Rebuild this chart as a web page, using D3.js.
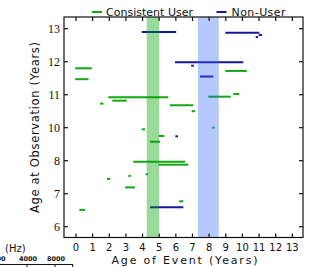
<!DOCTYPE html>
<html>
<head>
<meta charset="utf-8">
<script src="https://cdn.jsdelivr.net/npm/d3@7"></script>
<style>
  body { margin: 0; background: #fff; }
  svg { display: block; }
</style>
</head>
<body>
<div id="chart"></div>
<script>
// x tick values (years) and y tick labels (the axis skips 9)
const xTicks = [0, 1, 2, 3, 4, 5, 6, 7, 8, 9, 10, 11, 12, 13]
const yTicks = [6, 7, 8, 10, 11, 12, 13]

// shaded windows [start, end] in years
const greenBand = [4.25, 5.0]
const blueBand = [7.33, 8.58]

// [start age, end age, age at observation]
const nonUser = [
  [3.95, 6.02, 12.9],
  [8.97, 11.02, 12.88],
  [10.8, 10.95, 12.75],
  [10.98, 11.18, 12.81],
  [5.95, 10.05, 11.98],
  [6.92, 7.08, 11.88],
  [7.45, 8.25, 11.55],
  [5.97, 6.13, 9.48],
  [4.45, 6.45, 6.59]
]

const consistent = [
  [-0.05, 0.95, 11.8],
  [-0.05, 0.75, 11.47],
  [8.97, 10.26, 11.72],
  [1.94, 5.55, 10.92],
  [1.45, 1.65, 10.73],
  [2.18, 3.05, 10.82],
  [5.65, 7.05, 10.68],
  [6.95, 7.15, 10.5],
  [7.95, 9.3, 10.94],
  [9.45, 9.81, 11.02],
  [3.95, 4.15, 9.9],
  [4.97, 5.3, 9.5],
  [4.45, 5.05, 9.15],
  [8.18, 8.32, 10.0],
  [3.44, 6.55, 7.97],
  [4.95, 6.75, 7.88],
  [1.86, 2.06, 7.45],
  [3.15, 3.3, 7.54],
  [4.18, 4.32, 7.59],
  [2.95, 3.55, 7.19],
  [6.2, 6.45, 6.77],
  [0.2, 0.55, 6.51]
]

const GREEN = "#12a812"
const BLUE = "#1616a0"

const width = 310, height = 267
const plotLeft = 64, plotRight = 303, plotTop = 17, plotBottom = 237.5

const svg = d3.select("#chart").append("svg")
    .attr("width", width)
    .attr("height", height)

const x = d3.scaleLinear().domain([-0.72, 13.64]).range([plotLeft, plotRight])
// piecewise scale: labels are evenly spaced even though 9 is missing
const y = d3.scaleLinear()
    .domain(yTicks)
    .range(yTicks.map((d, i) => 226.7 - i * 33))

// segments
const segs = svg.append("g").attr("stroke-width", 2)

segs.selectAll("line.cu")
  .data(consistent)
  .join("line")
    .attr("class", "cu")
    .attr("x1", d => x(d[0]))
    .attr("x2", d => x(d[1]))
    .attr("y1", d => y(d[2]))
    .attr("y2", d => y(d[2]))
    .attr("stroke", GREEN)

segs.selectAll("line.nu")
  .data(nonUser)
  .join("line")
    .attr("class", "nu")
    .attr("x1", d => x(d[0]))
    .attr("x2", d => x(d[1]))
    .attr("y1", d => y(d[2]))
    .attr("y2", d => y(d[2]))
    .attr("stroke", BLUE)

// translucent bands drawn over the segments
svg.append("rect")
    .attr("x", x(greenBand[0]))
    .attr("width", x(greenBand[1]) - x(greenBand[0]))
    .attr("y", plotTop)
    .attr("height", plotBottom - plotTop)
    .attr("fill", "rgb(0,160,0)")
    .attr("fill-opacity", 0.4)

svg.append("rect")
    .attr("x", x(blueBand[0]))
    .attr("width", x(blueBand[1]) - x(blueBand[0]))
    .attr("y", plotTop)
    .attr("height", plotBottom - plotTop)
    .attr("fill", "rgb(45,100,255)")
    .attr("fill-opacity", 0.35)

// frame
svg.append("rect")
    .attr("x", plotLeft).attr("y", plotTop)
    .attr("width", plotRight - plotLeft).attr("height", plotBottom - plotTop)
    .attr("fill", "none")
    .attr("stroke", "#111")
    .attr("stroke-width", 1.2)

// inward ticks on all four sides
const ticks = svg.append("g").attr("stroke", "#111").attr("stroke-width", 1.2)
xTicks.forEach(t => {
  ticks.append("line").attr("x1", x(t)).attr("x2", x(t)).attr("y1", plotTop).attr("y2", plotTop + 4)
  ticks.append("line").attr("x1", x(t)).attr("x2", x(t)).attr("y1", plotBottom).attr("y2", plotBottom - 4)
})
yTicks.forEach(t => {
  ticks.append("line").attr("x1", plotLeft).attr("x2", plotLeft + 4).attr("y1", y(t)).attr("y2", y(t))
  ticks.append("line").attr("x1", plotRight).attr("x2", plotRight - 4).attr("y1", y(t)).attr("y2", y(t))
})

// tick labels
svg.append("g")
    .attr("font-family", "DejaVu Sans, sans-serif")
    .attr("font-size", 10)
    .attr("fill", "#111")
    .attr("text-anchor", "middle")
  .selectAll("text")
  .data(xTicks)
  .join("text")
    .attr("x", d => x(d))
    .attr("y", 251)
    .text(d => d)

svg.append("g")
    .attr("font-family", "Liberation Serif, serif")
    .attr("font-size", 12)
    .attr("fill", "#111")
    .attr("text-anchor", "end")
  .selectAll("text")
  .data(yTicks)
  .join("text")
    .attr("x", 60)
    .attr("y", d => y(d) + 4)
    .text(d => d)

// axis titles
svg.append("text")
    .attr("x", 184.5)
    .attr("y", 264)
    .attr("text-anchor", "middle")
    .attr("font-family", "DejaVu Sans, sans-serif")
    .attr("font-size", 11)
    .attr("textLength", 146)
    .attr("lengthAdjust", "spacing")
    .attr("fill", "#111")
    .text("Age of Event (Years)")

svg.append("text")
    .attr("transform", "translate(38.5,127.5) rotate(-90)")
    .attr("text-anchor", "middle")
    .attr("font-family", "DejaVu Sans, sans-serif")
    .attr("font-size", 11.5)
    .attr("textLength", 171)
    .attr("lengthAdjust", "spacing")
    .attr("fill", "#111")
    .text("Age at Observation (Years)")

// legend
const legend = [
  { name: "Consistent User", color: GREEN, lx: 92, tx: 106, len: 87 },
  { name: "Non-User", color: BLUE, lx: 216.5, tx: 231.5, len: 54 }
]
legend.forEach(l => {
  svg.append("line")
      .attr("x1", l.lx).attr("x2", l.lx + 10)
      .attr("y1", 12).attr("y2", 12)
      .attr("stroke", l.color)
      .attr("stroke-width", 2)
  svg.append("text")
      .attr("x", l.tx).attr("y", 15.5)
      .attr("font-family", "DejaVu Sans, sans-serif")
      .attr("font-size", 11)
      .attr("textLength", l.len)
      .attr("lengthAdjust", "spacing")
      .attr("fill", "#111")
      .text(l.name)
})

// fragment of a neighbouring panel at bottom left
svg.append("text")
    .attr("x", 5).attr("y", 252)
    .attr("font-family", "DejaVu Sans, sans-serif")
    .attr("font-size", 10)
    .attr("fill", "#111")
    .text("(Hz)")
const frag = svg.append("g")
    .attr("font-family", "DejaVu Sans, sans-serif")
    .attr("font-size", 6.5)
    .attr("font-weight", "bold")
    .attr("fill", "#111")
    .attr("text-anchor", "middle")
;[["00", 1], ["4000", 28], ["8000", 56]].forEach(d => {
  frag.append("text").attr("x", d[1]).attr("y", 261).text(d[0])
})
svg.append("line").attr("x1", 0).attr("x2", 73).attr("y1", 264.5).attr("y2", 264.5)
    .attr("stroke", "#111").attr("stroke-width", 1)
;[27, 55, 72.7].forEach(t => {
  svg.append("line").attr("x1", t).attr("x2", t).attr("y1", 264.5).attr("y2", 267)
      .attr("stroke", "#111").attr("stroke-width", 1)
})
</script>
</body>
</html>
